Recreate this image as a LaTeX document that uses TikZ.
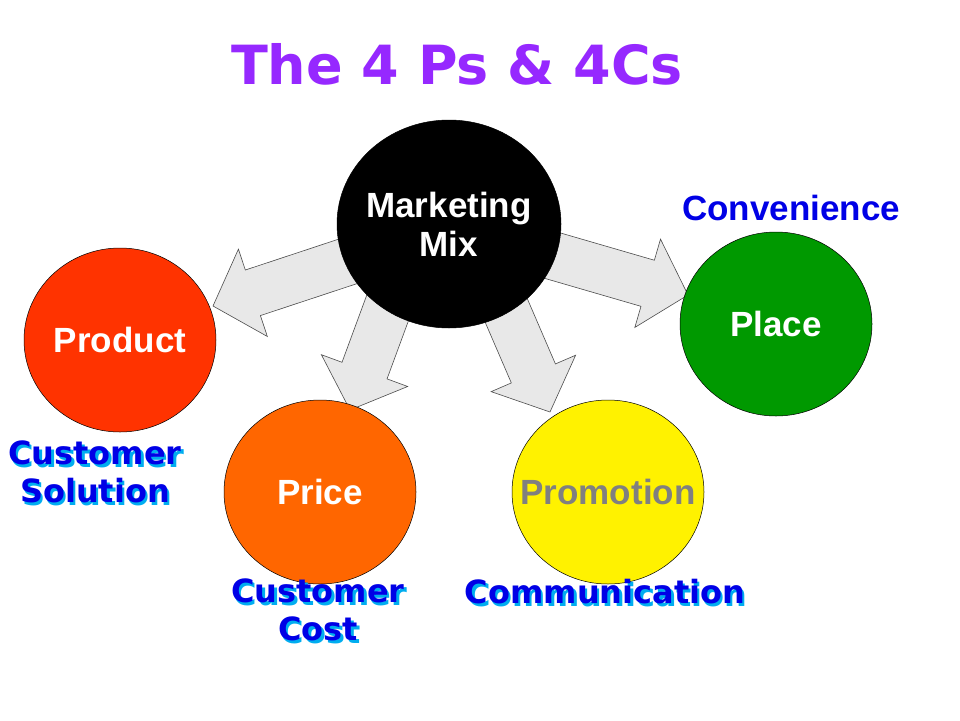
\documentclass[tikz,border=0pt]{standalone}
\usepackage{fontspec}
\setmainfont{Liberation Sans}
\newfontfamily\titlefont{DejaVu Sans}
\definecolor{lblue}{RGB}{0,0,230}
\definecolor{ttl}{RGB}{150,40,255}
\tikzset{
 arrowsty/.style={draw=black!70,fill=gray!18,line width=0.6pt},
 circ/.style={ellipse,draw=black,line width=0.5pt},
 wlab/.style={text=white,font=\bfseries\fontsize{35}{39}\selectfont,align=center},
 clab/.style={font=\titlefont\bfseries\fontsize{32}{38}\selectfont,align=center,text=lblue},
}
\usetikzlibrary{shapes.geometric}
\newcommand\barrow[4]{\begin{scope}[shift={(#1,#2)},rotate={atan2(-(#4),#3)}]
\pgfmathsetmacro\L{veclen(#3,#4)}
\draw[arrowsty] (0,24)--({\L-42},24)--({\L-42},46)--(\L,0)--({\L-42},-46)--({\L-42},-24)--(0,-24)--cycle;
\end{scope}}
\newcommand\shlab[4]{\node[clab,text=cyan] at (#1+2.5,#2+2.5) {#3};
\node[clab] (#4) at (#1,#2) {#3};}
\begin{document}
\begin{tikzpicture}[x=1pt,y=-1pt]
\useasboundingbox (0,0) rectangle (960,720);
\barrow{358}{258}{-145}{48}
\barrow{392}{296}{-42}{114}
\barrow{500}{296}{50}{116}
\barrow{540}{252}{148}{43}
\node[circ,fill=black,minimum width=224pt,minimum height=208pt] (mix) at (449,224) {};
\node[wlab] at (mix) {Marketing\\Mix};
\node[circ,fill={rgb,255:red,255;green,51;blue,0},minimum width=192pt,minimum height=184pt] (prod) at (120,340) {};
\node[wlab] at (prod) {Product};
\node[circ,fill={rgb,255:red,255;green,102;blue,0},minimum width=192pt,minimum height=184pt] (price) at (320,492) {};
\node[wlab] at (price) {Price};
\node[circ,fill=yellow,minimum width=192pt,minimum height=184pt] (promo) at (608,492) {};
\node[wlab,text=gray] at (promo) {Promotion};
\node[circ,fill={rgb,255:red,0;green,153;blue,0},minimum width=192pt,minimum height=184pt] (place) at (776,324) {};
\node[wlab] at (place) {Place};
\node[font=\titlefont\bfseries\fontsize{54}{60}\selectfont,text=ttl] (title) at (457,64) {The 4 Ps \& 4Cs};
\node[font=\bfseries\fontsize{35}{39}\selectfont,text=lblue] (conv) at (791,208) {Convenience};
\shlab{95}{472}{Customer\\Solution}{sol}
\shlab{318}{610}{Customer\\Cost}{cost}
\shlab{605}{592}{Communication}{comm}
\end{tikzpicture}
\end{document}
